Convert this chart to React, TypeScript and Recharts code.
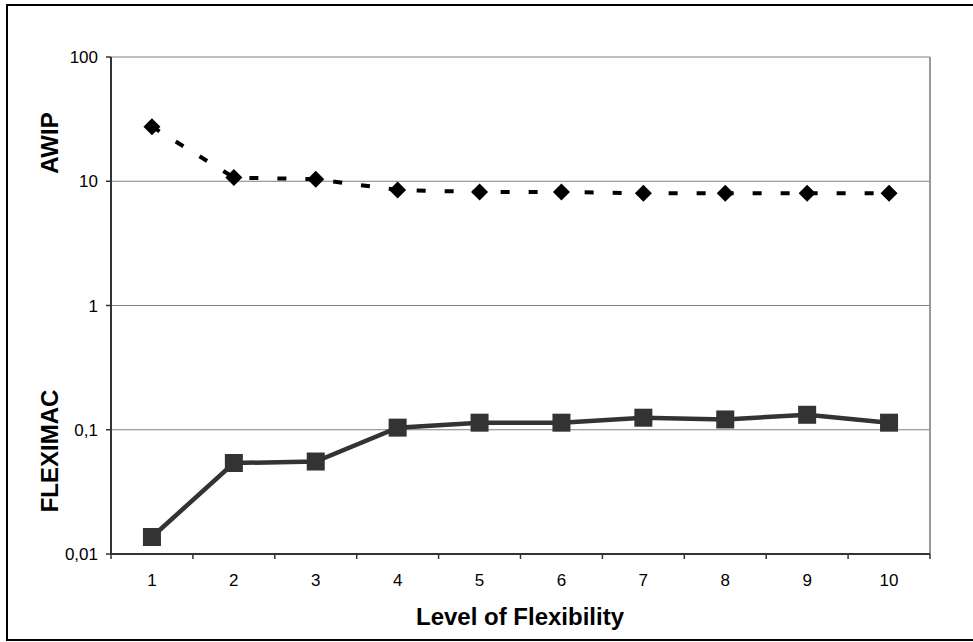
import React from 'react';
import { LineChart, Line, XAxis, YAxis, CartesianGrid, ReferenceLine } from 'recharts';

// level of flexibility on the x axis
const levels = [1, 2, 3, 4, 5, 6, 7, 8, 9, 10];
const awip = [27.5, 10.7, 10.4, 8.5, 8.2, 8.2, 8.0, 8.0, 8.0, 8.0];
const fleximac = [0.0137, 0.054, 0.0555, 0.104, 0.114, 0.114, 0.125, 0.121, 0.132, 0.114];
const yTicks = [0.01, 0.1, 1, 10, 100];

const data = levels.map((level, i) => ({ level, awip: awip[i], fleximac: fleximac[i] }));
// labels on the integers, tick marks between categories
const xTicks = [...levels.flatMap((l) => [l - 0.5, l]), levels[levels.length - 1] + 0.5];

const FONT = '"Liberation Sans", Arial, sans-serif';

function XTick(props: any) {
  const { x, y, payload } = props;
  const v = payload.value;
  if (v % 1 !== 0) {
    return <line x1={x} y1={y} x2={x} y2={y + 5} stroke="#333" strokeWidth={1.5} />;
  }
  return (
    <text x={x} y={y + 32} textAnchor="middle" fontSize={17} fontFamily={FONT} fill="#000">
      {v}
    </text>
  );
}

function Diamond(props: any) {
  const { cx, cy } = props;
  if (cx == null || cy == null) return null;
  const r = 8.5;
  return <polygon points={`${cx},${cy - r} ${cx + r},${cy} ${cx},${cy + r} ${cx - r},${cy}`} fill="#000" />;
}

function Square(props: any) {
  const { cx, cy } = props;
  if (cx == null || cy == null) return null;
  return <rect x={cx - 9} y={cy - 9} width={18} height={18} fill="#333" />;
}

export default function App() {
  return (
    <div style={{ position: 'absolute', left: 0, top: 0, width: 973, height: 642, overflow: 'hidden', background: '#fff' }}>
      <div
        style={{
          position: 'absolute',
          left: 6,
          top: 4,
          width: 980,
          height: 637,
          border: '2px solid #000',
          boxSizing: 'border-box',
        }}
      />
      <div style={{ position: 'absolute', left: 0, top: 0 }}>
        <LineChart width={973} height={642} data={data} margin={{ top: 57, right: 43, bottom: 58, left: 0 }}>
          <CartesianGrid horizontal vertical={false} stroke="#808080" strokeWidth={1} />
          <XAxis
            dataKey="level"
            type="number"
            domain={[0.5, 10.5]}
            ticks={xTicks}
            interval={0}
            tickSize={0}
            tickMargin={0}
            tickLine={false}
            tick={<XTick />}
            height={30}
            axisLine={{ stroke: '#333', strokeWidth: 2 }}
          />
          <YAxis
            scale="log"
            domain={[0.01, 100]}
            allowDataOverflow
            ticks={yTicks}
            interval={0}
            width={111}
            tickSize={5}
            tickMargin={8}
            tickFormatter={(v: number) => String(v).replace('.', ',')}
            tick={{ fontSize: 17, fontFamily: FONT, fill: '#000' }}
            tickLine={{ stroke: '#333', strokeWidth: 1.5 }}
            axisLine={{ stroke: '#333', strokeWidth: 2 }}
          />
          <ReferenceLine x={10.5} stroke="#999" strokeWidth={2} />
          <Line
            dataKey="awip"
            stroke="#000"
            strokeWidth={4}
            strokeDasharray="9 19"
            dot={<Diamond />}
            activeDot={false}
            isAnimationActive={false}
          />
          <Line
            dataKey="fleximac"
            stroke="#333"
            strokeWidth={4.5}
            dot={<Square />}
            activeDot={false}
            isAnimationActive={false}
          />
        </LineChart>
      </div>
      <svg width={973} height={642} style={{ position: 'absolute', left: 0, top: 0, pointerEvents: 'none' }}>
        <text
          x={49}
          y={143}
          transform="rotate(-90 49 143)"
          textAnchor="middle"
          dominantBaseline="central"
          fontSize={24}
          fontWeight="bold"
          fontFamily={FONT}
          fill="#000"
        >
          AWIP
        </text>
        <text
          x={49}
          y={451}
          transform="rotate(-90 49 451)"
          textAnchor="middle"
          dominantBaseline="central"
          fontSize={24}
          fontWeight="bold"
          fontFamily={FONT}
          fill="#000"
        >
          FLEXIMAC
        </text>
        <text x={520} y={625} textAnchor="middle" fontSize={24} fontWeight="bold" fontFamily={FONT} fill="#000">
          Level of Flexibility
        </text>
      </svg>
    </div>
  );
}
